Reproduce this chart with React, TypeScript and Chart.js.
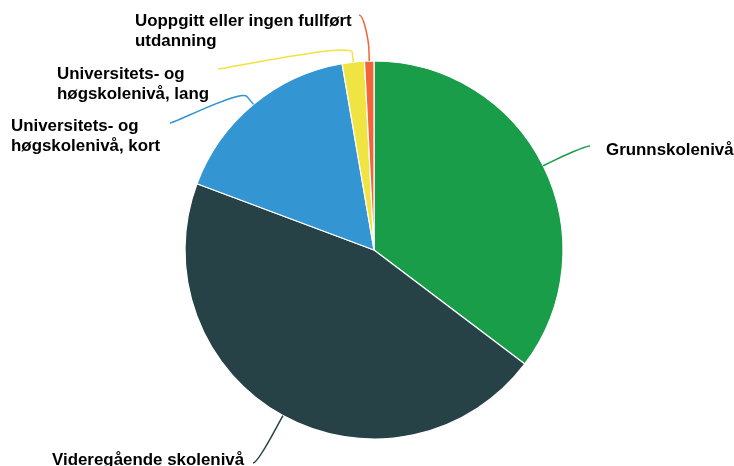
import React, { useEffect, useRef } from "react";
import { Chart, registerables } from "chart.js";

Chart.register(...registerables);

const categories = [
  "Grunnskolenivå",
  "Videregående skolenivå",
  "Universitets- og høgskolenivå, kort",
  "Universitets- og høgskolenivå, lang",
  "Uoppgitt eller ingen fullført utdanning",
];
const values = [35.3, 45.4, 16.6, 1.9, 0.8];
const labelLines = [
  ["Grunnskolenivå"],
  ["Videregående skolenivå"],
  ["Universitets- og", "høgskolenivå, kort"],
  ["Universitets- og", "høgskolenivå, lang"],
  ["Uoppgitt eller ingen fullført", "utdanning"],
];
const colors = ["#1a9d49", "#274247", "#3396d2", "#f0e442", "#f26539"];

// label placement (connector end point, text left x, first baseline)
const labelLayout = [
  { ex: 590, ey: 146, align: "left", tx: 606, ty: 155 },
  { ex: 253, ey: 463, align: "right", tx: 52, ty: 465 },
  { ex: 170, ey: 123, align: "right", tx: 11, ty: 131 },
  { ex: 218, ey: 69, align: "right", tx: 57, ty: 78.5 },
  { ex: 359, ey: 15, align: "right", tx: 135, ty: 26 },
];

const FONT = "bold 16.9px 'Liberation Sans', Arial, Helvetica, sans-serif";
const LINE_H = 20;

const outsideLabels = {
  id: "outsideLabels",
  afterDatasetsDraw(chart: any) {
    const ctx = chart.ctx;
    const meta = chart.getDatasetMeta(0);
    meta.data.forEach((arc: any, i: number) => {
      const { x, y, startAngle, endAngle, outerRadius } = arc.getProps(
        ["x", "y", "startAngle", "endAngle", "outerRadius"],
        true
      );
      const mid = (startAngle + endAngle) / 2;
      const tX = x + Math.cos(mid) * outerRadius;
      const tY = y + Math.sin(mid) * outerRadius;
      const bX = x + Math.cos(mid) * (outerRadius + 10);
      const bY = y + Math.sin(mid) * (outerRadius + 10);
      const L = labelLayout[i];
      ctx.save();
      ctx.strokeStyle = colors[i];
      ctx.lineWidth = 1.5;
      ctx.beginPath();
      ctx.moveTo(L.ex, L.ey);
      ctx.bezierCurveTo(
        L.ex + (L.align === "left" ? -5 : 5),
        L.ey,
        2 * bX - tX,
        2 * bY - tY,
        bX,
        bY
      );
      ctx.lineTo(tX, tY);
      ctx.stroke();
      ctx.font = FONT;
      ctx.fillStyle = "#000000";
      ctx.textAlign = "left";
      ctx.textBaseline = "alphabetic";
      labelLines[i].forEach((line, j) => {
        ctx.fillText(line, L.tx, L.ty + j * LINE_H);
      });
      ctx.restore();
    });
  },
};

export default function App() {
  const ref = useRef<HTMLCanvasElement | null>(null);
  useEffect(() => {
    if (!ref.current) return;
    const chart = new Chart(ref.current, {
      type: "pie",
      data: {
        labels: categories,
        datasets: [
          {
            data: values,
            backgroundColor: colors,
            borderColor: "#ffffff",
            borderWidth: 1.2,
            radius: 189,
          } as any,
        ],
      },
      options: {
        responsive: false,
        animation: false,
        layout: { padding: { left: 14, top: 34, right: 0, bottom: 0 } },
        plugins: {
          legend: { display: false },
          tooltip: { enabled: false },
        },
      },
      plugins: [outsideLabels],
    });
    return () => chart.destroy();
  }, []);
  return (
    <div style={{ position: "absolute", left: 0, top: 0, width: 734, height: 466, background: "#fff" }}>
      <canvas ref={ref} width={734} height={466} style={{ display: "block" }} />
    </div>
  );
}
